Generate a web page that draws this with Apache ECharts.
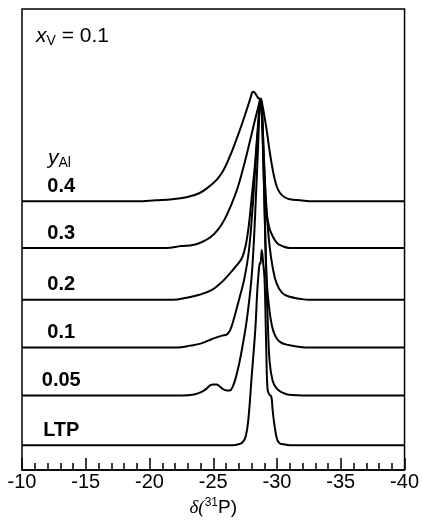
<!DOCTYPE html>
<html><head><meta charset="utf-8">
<script src="https://cdn.jsdelivr.net/npm/echarts/dist/echarts.min.js"></script>
<style>html,body{margin:0;padding:0;background:#fff}#c{width:422px;height:522px}</style>
</head><body><div id="c"></div>
<script>
// Sample labels (y_Al) from top to bottom and vertical stacking offsets (arbitrary units)
const sampleLabels = ['0.4', '0.3', '0.2', '0.1', '0.05', 'LTP'];
const baselineOffsets = [270, 223, 171, 123, 75, 25];

// Spectra: [delta(31P) ppm, intensity above own baseline]
const spec04 = [[-10,0],[-19,0],[-20.5,1],[-21.8,2],[-22.9,4],[-23.9,8],[-24.6,14],[-25.3,22],[-25.8,31],[-26.3,45],[-26.7,58],[-27.1,72],[-27.45,85],[-27.75,97],[-27.95,105],[-28.1,110],[-28.25,109],[-28.45,105],[-28.6,103],[-28.71,103],[-28.85,97],[-29.0,86],[-29.18,72],[-29.4,52],[-29.6,36],[-29.8,23],[-30.0,14],[-30.25,8],[-30.6,4],[-31.0,2],[-31.8,1],[-32.8,0],[-40,0]];
const spec03 = [[-10,0],[-21.3,0],[-22.5,2],[-23.4,3],[-24.1,6],[-24.8,11],[-25.4,19],[-25.9,29],[-26.4,43],[-26.9,60],[-27.3,78],[-27.7,98],[-28.0,114],[-28.3,130],[-28.5,140],[-28.65,148],[-28.72,150],[-28.8,142],[-28.88,122],[-29.02,72],[-29.18,36],[-29.4,20],[-29.65,12],[-30.0,5],[-30.4,2],[-31,0],[-40,0]];
const spec02 = [[-10,0],[-21.8,0],[-22.9,2],[-23.9,5],[-24.9,10],[-25.6,17],[-26.2,25],[-26.8,34],[-27.25,42],[-27.55,55],[-27.8,76],[-28.05,108],[-28.25,133],[-28.45,166],[-28.62,194],[-28.72,202],[-28.8,192],[-28.88,170],[-29.02,128],[-29.2,86],[-29.4,56],[-29.65,33],[-29.95,17],[-30.4,7],[-31.0,3],[-31.8,1],[-32.5,0],[-40,0]];
const spec01 = [[-10,0],[-22.2,0],[-23.2,2],[-24.0,4],[-24.6,7],[-25.2,10],[-25.7,12],[-26.05,13],[-26.3,17],[-26.55,26],[-26.85,40],[-27.1,52],[-27.45,70],[-27.8,98],[-28.08,140],[-28.32,186],[-28.55,226],[-28.72,250],[-28.8,240],[-28.88,212],[-29.02,140],[-29.18,70],[-29.4,38],[-29.6,22],[-29.85,12],[-30.2,6],[-30.75,3],[-32.5,0],[-40,0]];
const spec005 = [[-10,0],[-22.6,0],[-23.5,1],[-24.0,3],[-24.4,6],[-24.75,10],[-25.0,11],[-25.25,11],[-25.5,9],[-25.8,6],[-26.05,5],[-26.3,5],[-26.5,8],[-26.75,17],[-27.05,33],[-27.3,50],[-27.62,75],[-28.0,118],[-28.25,172],[-28.48,240],[-28.72,298],[-28.8,285],[-28.88,255],[-29.02,190],[-29.18,112],[-29.28,72],[-29.42,34],[-29.65,15],[-29.96,7],[-30.4,3],[-30.8,1],[-32.5,0],[-40,0]];
const specLTP = [[-10,0],[-26.5,0],[-27.0,1],[-27.3,3],[-27.55,9],[-27.76,27],[-28.0,67],[-28.3,117],[-28.45,155],[-28.55,172],[-28.65,183],[-28.7,182],[-28.8,196],[-28.9,185],[-29.02,167],[-29.15,100],[-29.25,57],[-29.38,51],[-29.55,49],[-29.65,36],[-29.8,20],[-30.0,6],[-30.2,2],[-30.5,1],[-31,0],[-40,0]];
const spectra = [spec04, spec03, spec02, spec01, spec005, specLTP];

const FONT = '"Liberation Sans", Arial, Helvetica, sans-serif';
const chart = echarts.init(document.getElementById('c'), null, {renderer: 'canvas'});

const series = spectra.map((s, i) => ({
  type: 'line',
  name: sampleLabels[i],
  data: s.map(p => [p[0], p[1] + baselineOffsets[i]]),
  showSymbol: false,
  smooth: 0.4,
  lineStyle: {color: '#000', width: 2},
  silent: true
}));

chart.setOption({
  animation: false,
  backgroundColor: '#fff',
  grid: {left: 22, right: 17, top: 9, bottom: 50, show: true, borderColor: '#000', borderWidth: 1.5, backgroundColor: 'transparent'},
  xAxis: {
    type: 'value', min: -40, max: -10, interval: 5, inverse: true,
    axisLine: {show: true, lineStyle: {color: '#000', width: 1.5}},
    axisTick: {show: true, inside: true, length: 12, lineStyle: {color: '#000', width: 1.5}},
    minorTick: {show: true, splitNumber: 5, length: 7, lineStyle: {color: '#000', width: 1.5}},
    splitLine: {show: false},
    axisLabel: {color: '#000', fontSize: 20, fontFamily: FONT, margin: 2},
    name: '{d|δ(}{s|31}{p|P)}',
    nameLocation: 'middle', nameGap: 14,
    nameTextStyle: {
      rich: {
        d: {fontFamily: '"Liberation Serif", "DejaVu Serif", serif', fontStyle: 'italic', fontSize: 19, color: '#000', lineHeight: 21},
        s: {fontFamily: FONT, fontSize: 12, color: '#000', verticalAlign: 'top', lineHeight: 12},
        p: {fontFamily: FONT, fontSize: 19, color: '#000', lineHeight: 21}
      }
    }
  },
  yAxis: {type: 'value', min: 0, max: 463, show: false},
  series: series
});

const graphics = [];
sampleLabels.forEach((lab, i) => {
  const pt = chart.convertToPixel({gridIndex: 0}, [-13.08, baselineOffsets[i]]);
  graphics.push({
    type: 'text', x: pt[0], y: pt[1] - 5,
    style: {text: lab, font: 'bold 20px ' + FONT, fill: '#000', textAlign: 'center', textVerticalAlign: 'bottom'}
  });
});
graphics.push({
  type: 'text', x: 36, y: 24,
  style: {
    text: '{x|x}{v|V}{e| = 0.1}',
    textVerticalAlign: 'top',
    rich: {
      x: {fontFamily: FONT, fontStyle: 'italic', fontSize: 21, fill: '#000', lineHeight: 24},
      v: {fontFamily: FONT, fontSize: 14, fill: '#000', verticalAlign: 'bottom', lineHeight: 14},
      e: {fontFamily: FONT, fontSize: 21, fill: '#000', lineHeight: 24}
    }
  }
});
graphics.push({
  type: 'text', x: 48, y: 146,
  style: {
    text: '{y|y}{a|Al}',
    textVerticalAlign: 'top',
    rich: {
      y: {fontFamily: FONT, fontStyle: 'italic', fontSize: 21, fill: '#000', lineHeight: 24},
      a: {fontFamily: FONT, fontSize: 14, fill: '#000', verticalAlign: 'bottom', lineHeight: 14}
    }
  }
});
chart.setOption({graphic: graphics});
</script>
</body></html>
